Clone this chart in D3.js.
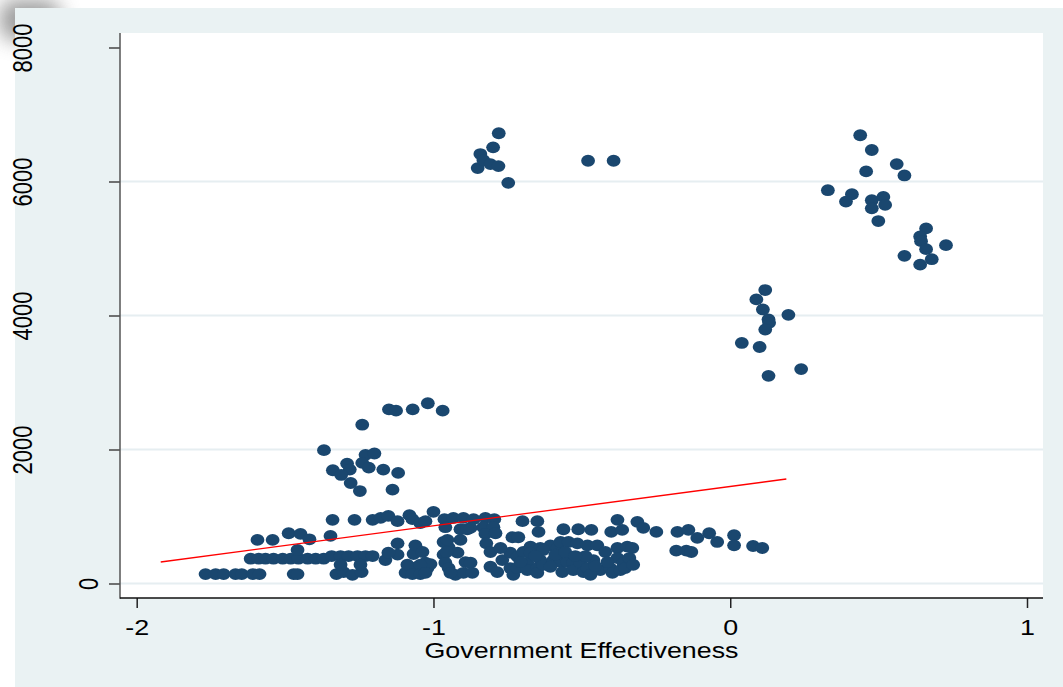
<!DOCTYPE html>
<html>
<head>
<meta charset="utf-8">
<script src="https://cdn.jsdelivr.net/npm/d3@7"></script>
<style>
  html, body { margin: 0; padding: 0; background: #ffffff; }
  svg { display: block; }
  text { font-family: "Liberation Sans", Arial, sans-serif; fill: #000; }
</style>
</head>
<body>
<svg id="chart" width="1063" height="687"></svg>
<script>
// Government Effectiveness (x) against the outcome (y), one row per observation
const lowerClusterLeft = [
  [-1.768,140],[-1.734,140],[-1.707,140],[-1.667,140],[-1.646,140],[-1.609,140],[-1.586,140],
  [-1.471,140],[-1.458,140],[-1.327,140],[-1.303,170],[-1.273,130],[-1.242,170],
  [-1.616,370],[-1.589,370],[-1.566,370],[-1.539,370],[-1.508,370],[-1.481,370],[-1.455,370],
  [-1.424,370],[-1.397,370],[-1.370,370],[-1.343,410],[-1.313,410],[-1.286,410],[-1.256,410],
  [-1.229,410],[-1.205,410],[-1.458,500],[-1.313,280],[-1.246,280],
  [-1.593,650],[-1.542,650],[-1.488,750],[-1.448,740],[-1.418,660],[-1.347,710]
];
const lowerClusterMid = [
  [-1.340,950],[-1.266,950],[-1.205,950],[-1.178,980],[-1.152,1010],[-1.121,930],[-1.081,1020],
  [-1.071,960],[-1.044,900],[-1.027,930],[-1.000,1070],[-0.963,960],[-0.960,840],[-0.933,980],
  [-0.899,980],[-0.865,960],[-0.825,980],[-0.795,960],[-0.875,830],[-0.909,810],[-0.886,810],
  [-0.832,840],[-0.798,840],[-0.825,740],[-0.791,750],[-0.822,600],[-0.734,690],[-0.714,690],
  [-1.162,350],[-1.121,600],[-1.121,430],[-1.094,160],[-1.067,440],[-1.061,570],[-1.054,250],
  [-1.037,470],[-1.027,310],[-1.020,230],[-1.010,290],[-0.966,620],[-0.966,430],[-0.960,310],
  [-0.949,540],[-0.949,230],[-0.926,130],[-0.919,460],[-0.909,650],[-0.892,320],[-0.875,310],
  [-0.899,160],[-0.869,160],[-0.943,160],[-0.956,470],[-1.152,460],[-1.088,280],[-1.044,280],
  [-1.071,140],[-1.044,140],[-1.027,160],[-0.953,650]
];
const lowerClusterRight = [
  [-0.808,250],[-0.785,170],[-0.768,350],[-0.741,460],[-0.741,230],[-0.731,130],[-0.717,400],
  [-0.717,230],[-0.697,470],[-0.684,310],[-0.684,200],[-0.673,550],[-0.650,230],[-0.650,160],
  [-0.640,530],[-0.640,350],[-0.630,280],[-0.606,570],[-0.596,350],[-0.582,530],[-0.572,620],
  [-0.572,320],[-0.566,170],[-0.549,320],[-0.545,620],[-0.529,310],[-0.529,200],[-0.515,600],
  [-0.505,310],[-0.495,170],[-0.481,570],[-0.481,230],[-0.461,350],[-0.448,570],[-0.438,200],
  [-0.404,230],[-0.397,160],[-0.380,530],[-0.380,380],[-0.370,200],[-0.360,310],[-0.354,230],
  [-0.347,550],[-0.340,380],[-0.330,530],[-0.808,470],[-0.774,530],[-0.630,500],[-0.673,460],
  [-0.589,430],[-0.556,470],[-0.488,410],[-0.421,470],[-0.414,320],[-0.606,250],[-0.471,130],
  [-0.327,280],[-0.707,320],[-0.657,410],[-0.522,410],[-0.455,260],
  [-0.700,930],[-0.650,930],[-0.646,770],[-0.562,810],[-0.512,810],[-0.468,800],[-0.380,950],
  [-0.401,770],[-0.364,800],[-0.313,920],[-0.293,830],[-0.249,770],[-0.178,770],[-0.141,800],
  [-0.111,680],[-0.071,750],[-0.044,620],[0.013,720],[0.013,570],[0.077,560],[0.108,530],
  [-0.182,490],[-0.148,490],[-0.131,470]
];
const middleCluster = [
  [-1.150,2600],[-1.126,2580],[-1.070,2600],[-1.019,2690],[-0.969,2580],[-1.240,2370],
  [-1.369,1990],[-1.229,1920],[-1.199,1940],[-1.291,1790],[-1.240,1800],[-1.339,1690],
  [-1.282,1700],[-1.218,1730],[-1.169,1700],[-1.119,1650],[-1.311,1620],[-1.279,1500],
  [-1.248,1380],[-1.138,1400]
];
const upperClusterLeft = [
  [-0.780,6720],[-0.799,6510],[-0.842,6410],[-0.851,6200],[-0.832,6320],[-0.808,6260],
  [-0.781,6230],[-0.748,5980],[-0.479,6310],[-0.393,6310]
];
const clusterNearZero = [
  [0.118,4380],[0.088,4240],[0.110,4090],[0.129,3940],[0.131,3890],[0.118,3790],
  [0.196,4010],[0.039,3590],[0.099,3530],[0.129,3100],[0.239,3200]
];
const upperClusterRight = [
  [0.438,6690],[0.477,6470],[0.561,6260],[0.458,6150],[0.587,6090],[0.329,5870],[0.410,5810],
  [0.390,5700],[0.477,5720],[0.516,5770],[0.522,5650],[0.477,5600],[0.499,5410],[0.660,5300],
  [0.640,5180],[0.643,5110],[0.660,4990],[0.727,5050],[0.679,4840],[0.587,4890],[0.640,4760]
];

// Fitted line endpoints
const fitX = [-1.919, 0.189];
const fitY = [321, 1560];

// Axis ticks
const xTicks = [-2, -1, 0, 1];
const yTicks = [0, 2000, 4000, 6000, 8000];
const xTitle = "Government Effectiveness";

const observations = [].concat(lowerClusterLeft, lowerClusterMid, lowerClusterRight,
  middleCluster, upperClusterLeft, clusterNearZero, upperClusterRight);

const svg = d3.select("#chart");
const W = 1063, H = 687;
const plot = { left: 120, right: 1043, top: 33, bottom: 598 };
const stretch = 1.22;

// soft corner shadow and outer panel
const defs = svg.append("defs");
defs.append("filter").attr("id", "soft").attr("x", "-100%").attr("y", "-100%")
  .attr("width", "300%").attr("height", "300%")
  .append("feGaussianBlur").attr("stdDeviation", 10);
svg.append("rect").attr("x", 0).attr("y", 0).attr("width", 60).attr("height", 40)
  .attr("rx", 14).attr("fill", "#7a7a7a").attr("opacity", 0.75).attr("filter", "url(#soft)");
svg.append("rect").attr("x", 15).attr("y", 8).attr("width", W - 15).attr("height", H - 8)
  .attr("fill", "#eaf2f3");
svg.append("rect").attr("x", plot.left).attr("y", plot.top)
  .attr("width", plot.right - plot.left).attr("height", plot.bottom - plot.top)
  .attr("fill", "#ffffff");

const x = d3.scaleLinear().domain([-2, 1]).range([136.7, 1027]);
const y = d3.scaleLinear().domain([0, 8000]).range([583.5, 47.5]);

// horizontal grid lines
svg.append("g").selectAll("line").data(yTicks.filter(t => t < 8000)).join("line")
  .attr("x1", plot.left).attr("x2", plot.right)
  .attr("y1", d => y(d)).attr("y2", d => y(d))
  .attr("stroke", "#e6eef1").attr("stroke-width", 2);

// observations
svg.append("g").selectAll("ellipse").data(observations).join("ellipse")
  .attr("cx", d => x(d[0])).attr("cy", d => y(d[1]))
  .attr("rx", 6.9).attr("ry", 5.9)
  .attr("fill", "#1a476f");

// fitted values
svg.append("path")
  .datum(fitX.map((v, i) => [v, fitY[i]]))
  .attr("d", d3.line().x(d => x(d[0])).y(d => y(d[1])))
  .attr("fill", "none").attr("stroke", "#ff0000").attr("stroke-width", 1.4);

// axes
const yAxis = d3.axisLeft(y).tickValues(yTicks).tickSize(11).tickSizeOuter(0)
  .tickFormat(d3.format("d"));
const gy = svg.append("g").attr("transform", `translate(${plot.left},0)`).call(yAxis);
gy.select(".domain").remove();
gy.selectAll(".tick line").attr("stroke", "#444").attr("stroke-width", 1.5);
gy.selectAll(".tick text")
  .attr("x", null).attr("dy", null)
  .attr("text-anchor", "middle")
  .style("font-size", "22px")
  .attr("transform", function (d) {
    const n = String(d).length;
    const bx = 98 - 22 * (n - 1) - plot.left;
    return `translate(${bx},0) scale(${stretch},1) rotate(-90)`;
  });

const xAxis = d3.axisBottom(x).tickValues(xTicks).tickSize(10).tickSizeOuter(0)
  .tickFormat(d => String(d));
const gx = svg.append("g").attr("transform", `translate(0,${plot.bottom})`).call(xAxis);
gx.select(".domain").remove();
gx.selectAll(".tick line").attr("stroke", "#222").attr("stroke-width", 1.5);
gx.selectAll(".tick text")
  .attr("y", null).attr("dy", null)
  .attr("text-anchor", "middle")
  .style("font-size", "22px")
  .attr("transform", `translate(0,36.5) scale(${stretch},1)`);

// plot region edges
svg.append("line").attr("x1", plot.left).attr("x2", plot.left)
  .attr("y1", plot.top).attr("y2", plot.bottom + 0.75)
  .attr("stroke", "#555").attr("stroke-width", 1.5);
svg.append("line").attr("x1", plot.left).attr("x2", plot.right)
  .attr("y1", plot.bottom).attr("y2", plot.bottom)
  .attr("stroke", "#111").attr("stroke-width", 1.5);

// axis title
svg.append("text")
  .attr("transform", `translate(${(plot.left + plot.right) / 2},657.5) scale(${stretch},1)`)
  .attr("text-anchor", "middle")
  .style("font-size", "22px")
  .text(xTitle);
</script>
</body>
</html>
